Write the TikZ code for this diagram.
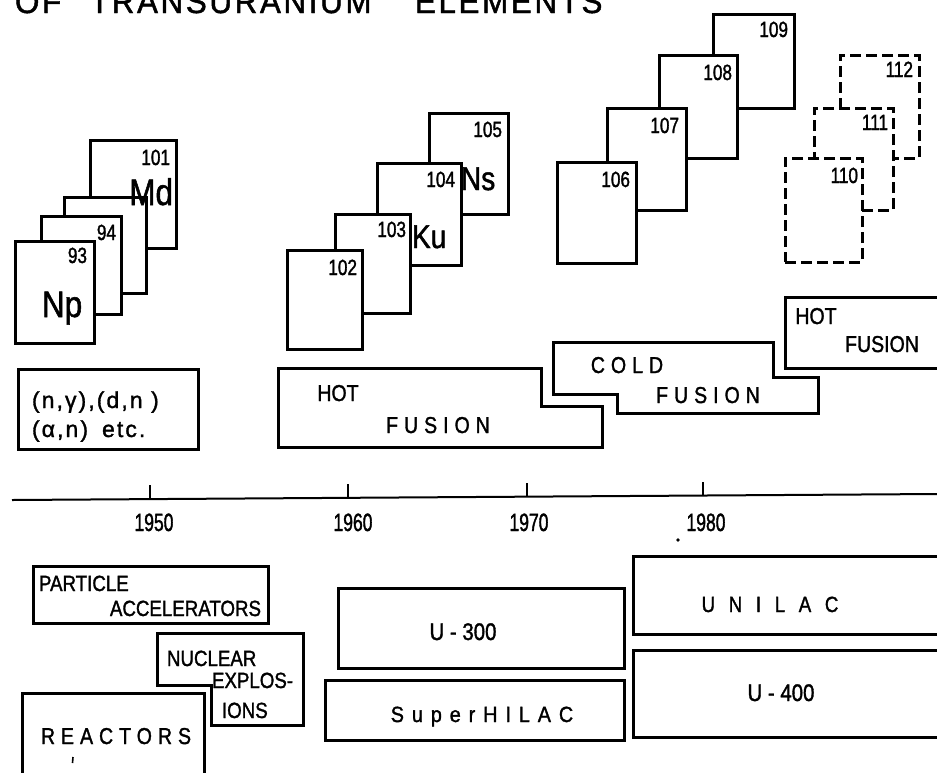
\documentclass[tikz,border=0pt]{standalone}
\usepackage{fontspec}
\setmainfont[FakeBold=1.2]{Liberation Sans}
\newfontfamily\fnorm[FakeStretch=0.85,FakeBold=1.4]{Liberation Sans}
\newfontfamily\fnum[FakeStretch=0.78,FakeBold=1.4]{Liberation Sans}
\newfontfamily\fyear[FakeStretch=0.7,FakeBold=1.4]{Liberation Sans}
\newfontfamily\fspaced[FakeStretch=0.85,LetterSpace=26,FakeBold=1.4]{Liberation Sans}
\newfontfamily\fmid[FakeStretch=0.9,LetterSpace=36,FakeBold=1.4]{Liberation Sans}
\newfontfamily\fwide[FakeStretch=0.85,LetterSpace=62,FakeBold=1.4]{Liberation Sans}
\newfontfamily\freac[LetterSpace=9,FakeBold=1.4]{Liberation Sans}
\newfontfamily\ftitle[FakeStretch=0.95,LetterSpace=8,FakeBold=1.4]{Liberation Sans}
\begin{document}
\begin{tikzpicture}[x=1pt,y=-1pt,
  card/.style={draw, line width=3pt, fill=white, anchor=north west, inner sep=0pt, outer sep=0pt},
  dcard/.style={card, dash pattern=on 11pt off 5pt, line width=3pt},
  box/.style={draw, line width=3pt, line join=miter},
  txt/.style={inner sep=0pt, outer sep=0pt},
  num/.style={txt, anchor=base east, font=\fnum\fontsize{22}{22}\selectfont},
  bigsym/.style={txt, font=\fnorm\fontsize{37}{37}\selectfont},
  midsym/.style={txt, font=\fnorm\fontsize{33}{33}\selectfont},
  fus/.style={txt, anchor=base, font=\fspaced\fontsize{23}{23}\selectfont},
  plain/.style={txt, anchor=base west, font=\fnorm\fontsize{23}{23}\selectfont},
  acc/.style={txt, font=\fnorm\fontsize{22}{22}\selectfont},
  year/.style={txt, anchor=base, font=\fyear\fontsize{25}{25}\selectfont}
]
\useasboundingbox (0,0) rectangle (937,772);

% title (cut at the top edge, as in the reference)
\node[txt, anchor=base west, font=\ftitle\fontsize{33}{33}\selectfont] (title1) at (15,13) {OF};
\node[txt, anchor=base west, font=\ftitle\fontsize{33}{33}\selectfont] (title2) at (90,13) {TRANSURANIUM};
\node[txt, anchor=base west, font=\ftitle\fontsize{33}{33}\selectfont] (title3) at (415,13) {ELEMENTS};

% ---- left group of cards
\node[card, minimum width=86pt, minimum height=108pt] (c101) at (90,140) {};
\node[card, minimum width=82pt, minimum height=96pt] (c95) at (64,197) {};
\node[card, minimum width=80pt, minimum height=98pt] (c94) at (41,216) {};
\node[card, minimum width=79pt, minimum height=102pt] (c93) at (15,241) {};
\node[num] (n101) at (170,165) {101};
\node[bigsym, anchor=base east] (sMd) at (173,205) {Md};
\node[num] (n94) at (116,240) {94};
\node[num] (n93) at (87,263) {93};
\node[bigsym, anchor=base west] (sNp) at (42,317) {Np};

% ---- middle group
\node[card, minimum width=79pt, minimum height=101pt] (c105) at (429,113) {};
\node[card, minimum width=84pt, minimum height=102pt] (c104) at (377,163) {};
\node[card, minimum width=75pt, minimum height=99pt] (c103) at (335,214) {};
\node[card, minimum width=75pt, minimum height=99pt] (c102) at (287,250) {};
\node[num] (n105) at (502,137) {105};
\node[num] (n104) at (455,187) {104};
\node[midsym, anchor=base west] (sNs) at (461,190) {Ns};
\node[num] (n103) at (406,237) {103};
\node[midsym, anchor=base west] (sKu) at (412,248) {Ku};
\node[num] (n102) at (357,275) {102};

% ---- right group
\node[card, minimum width=81pt, minimum height=94pt] (c109) at (713,14) {};
\node[card, minimum width=78pt, minimum height=103pt] (c108) at (659,55) {};
\node[card, minimum width=79pt, minimum height=102pt] (c107) at (607,108) {};
\node[card, minimum width=79pt, minimum height=101pt] (c106) at (557,162) {};
\node[num] (n109) at (788,37) {109};
\node[num] (n108) at (732,80) {108};
\node[num] (n107) at (679,133) {107};
\node[num] (n106) at (630,187) {106};

% ---- dashed group
\node[dcard, minimum width=79pt, minimum height=103pt] (c112) at (840,55) {};
\node[dcard, minimum width=79pt, minimum height=102pt] (c111) at (814,108) {};
\node[dcard, minimum width=77pt, minimum height=104pt] (c110) at (785,158) {};
\node[num] (n112) at (913,77) {112};
\node[num] (n111) at (888,130) {111};
\node[num] (n110) at (858,183) {110};

% ---- reactions box
\node[card, minimum width=180pt, minimum height=80pt] (reac) at (18,369) {};
\node[txt, anchor=base west, font=\freac\fontsize{23}{23}\selectfont] (r1) at (32,408) {(n,γ),(d,n )};
\node[txt, anchor=base west, font=\freac\fontsize{23}{23}\selectfont] (r2) at (32,437) {(α,n)\hspace{14pt}etc.};

% ---- fusion boxes
\draw[box] (278,368) -- (541,368) -- (541,406) -- (602,406) -- (602,447) -- (278,447) -- cycle;
\node[plain, anchor=base] (hot1) at (338,401) {HOT};
\node[fus] (fus1) at (438,433) {FUSION};
\draw[box] (553,342) -- (773,342) -- (773,377) -- (818,377) -- (818,413) -- (617,413) -- (617,394) -- (553,394) -- cycle;
\node[fus] (cold) at (627,373) {COLD};
\node[fus] (fus2) at (708,403) {FUSION};
\draw[box] (945,297) -- (785,297) -- (785,368) -- (945,368);
\node[plain, anchor=base] (hot2) at (816,324) {HOT};
\node[plain, anchor=base] (fus3) at (882,352) {FUSION};

% ---- time axis
\coordinate (ax0) at (12,500);
\coordinate (ax1) at (937,494);
\draw[line width=2pt] (ax0) -- (ax1);
\coordinate (t50) at (150,499.1);
\coordinate (t60) at (348,497.8);
\coordinate (t70) at (527,496.7);
\coordinate (t80) at (703,495.5);
\foreach \t in {t50,t60,t70,t80} \draw[line width=1.8pt] (\t) -- ++(0,-14);
\node[year] (y50) at (154,531) {1950};
\node[year] (y60) at (353,531) {1960};
\node[year] (y70) at (529,531) {1970};
\node[year] (y80) at (706,531) {1980};
\fill (678,540) circle (1.8pt);

% ---- accelerators, left
\node[card, minimum width=235pt, minimum height=57pt] (part) at (33,566) {};
\node[acc, anchor=base west] (pa1) at (39,591) {PARTICLE};
\node[acc, anchor=base east] (pa2) at (261,616) {ACCELERATORS};
\draw[box] (157,633) -- (303,633) -- (303,725) -- (211,725) -- (211,685) -- (157,685) -- cycle;
\node[acc, anchor=base west] (nu1) at (167,666) {NUCLEAR};
\node[acc, anchor=base west] (nu2) at (212,688) {EXPLOS-};
\node[acc, anchor=base west] (nu3) at (222,718) {IONS};
\draw[box] (22,780) -- (22,693) -- (204,693) -- (204,780);
\node[fus] (reacs) at (116,744) {REACTORS};
\draw[line width=1.6pt] (73,757) -- (72.5,763);

% ---- accelerators, right
\node[card, minimum width=286pt, minimum height=80pt] (u300) at (338,588) {};
\node[acc, anchor=base, font=\fnorm\fontsize{24}{24}\selectfont] (u300t) at (463,640) {U - 300};
\node[card, minimum width=299pt, minimum height=60pt] (shil) at (325,680) {};
\node[txt, anchor=base, font=\fmid\fontsize{22}{22}\selectfont] (shilt) at (482,722) {SuperHILAC};
\draw[box] (945,556) -- (633,556) -- (633,634) -- (945,634);
\node[txt, anchor=base, font=\fwide\fontsize{22}{22}\selectfont] (unil) at (770,612) {UNILAC};
\draw[box] (945,650) -- (633,650) -- (633,737) -- (945,737);
\node[acc, anchor=base, font=\fnorm\fontsize{24}{24}\selectfont] (u400t) at (781,701) {U - 400};
\end{tikzpicture}
\end{document}
